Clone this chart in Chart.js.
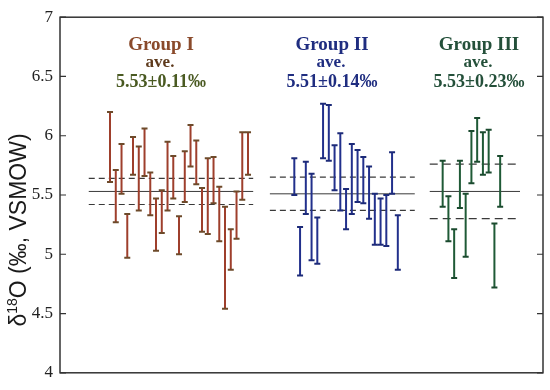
<!DOCTYPE html>
<html>
<head>
<meta charset="utf-8">
<script src="https://cdn.jsdelivr.net/npm/chart.js@4/dist/chart.umd.min.js"></script>
<style>
  html, body { margin: 0; padding: 0; background: #fff; }
  #wrap { width: 550px; height: 390px; }
</style>
</head>
<body>
<div id="wrap"><canvas id="c" width="550" height="390"></canvas></div>
<script>
// ---- data ----
const groupNames = ["Group I", "Group II", "Group III"];
const groupMeans = [5.53, 5.51, 5.53];
const groupSDs = [0.11, 0.14, 0.23];
const meanLabels = ["5.53±0.11‰", "5.51±0.14‰", "5.53±0.23‰"];
const yTicks = [4, 4.5, 5, 5.5, 6, 6.5, 7];
const yTickLabels = ["4", "4.5", "5", "5.5", "6", "6.5", "7"];

const groupI_high = [6.20,5.71,5.93,5.34,5.99,5.91,6.06,5.69,5.47,5.54,5.95,5.83,5.32,5.87,6.09,5.96,5.56,5.81,5.82,5.57,5.40,5.21,5.53,6.03,6.03];
const groupI_low  = [5.61,5.27,5.51,4.97,5.67,5.37,5.66,5.33,5.03,5.18,5.37,5.47,5.00,5.44,5.74,5.59,5.19,5.17,5.43,5.11,4.54,4.87,5.13,5.46,5.67];

const groupII_high = [5.81,5.23,5.78,5.68,5.31,6.27,6.26,5.92,6.02,5.55,5.93,5.88,5.82,5.74,5.51,5.47,5.50,5.86,5.33];
const groupII_low  = [5.50,4.82,5.34,4.95,4.92,5.81,5.79,5.54,5.37,5.21,5.34,5.44,5.43,5.30,5.08,5.08,5.07,5.51,4.87];

const groupIII_high = [5.79,5.49,5.21,5.79,5.51,6.04,6.15,6.03,6.05,5.26,5.83];
const groupIII_low  = [5.40,5.11,4.80,5.39,4.98,5.60,5.78,5.67,5.69,4.72,5.40];

// ---- layout (x in sample-slot units) ----
const groupStart = [8.7, 40.75, 66.55];
const meanSpan = [[5.0, 33.6], [36.5, 61.7], [64.3, 80.0]];
const barColors = ["#9e3f2c", "#22308c", "#1f5a36"];
const capColors = ["#6d4a2a", "#1c2a78", "#1a4a2e"];
const titleColors = ["#8a4a2b", "#1f2d80", "#24503a"];
const aveColors = ["#5e3a1c", "#1f2d80", "#24503a"];
const numColors = ["#4a5a22", "#1f2d80", "#24503a"];
const textCenterPx = [161, 332, 479];

const highs = [groupI_high, groupII_high, groupIII_high];
const lows = [groupI_low, groupII_low, groupIII_low];

function errorBarPoints(start, lo, hi) {
  const pts = [];
  lo.forEach((v, i) => {
    pts.push({x: start + i, y: v}, {x: start + i, y: hi[i]}, {x: start + i, y: null});
  });
  return pts;
}

const datasets = [];
for (let g = 0; g < 3; g++) {
  datasets.push({
    type: 'line',
    data: errorBarPoints(groupStart[g], lows[g], highs[g]),
    borderColor: barColors[g],
    borderWidth: 2,
    spanGaps: false,
    pointStyle: 'line',
    pointRadius: 3,
    pointBorderWidth: 2,
    pointBorderColor: capColors[g],
    fill: false,
    tension: 0
  });
}
for (let g = 0; g < 3; g++) {
  const [a, b] = meanSpan[g];
  const m = groupMeans[g], s = groupSDs[g];
  datasets.push({type:'line', data:[{x:a,y:m},{x:b,y:m}], borderColor:'#3a3a3a', borderWidth:1, pointRadius:0, fill:false});
  datasets.push({type:'line', data:[{x:a,y:m+s},{x:b,y:m+s}], borderColor:'#3a3a3a', borderWidth:1.2, borderDash: g===2?[8,5]:[6,4], pointRadius:0, fill:false});
  datasets.push({type:'line', data:[{x:a,y:m-s},{x:b,y:m-s}], borderColor:'#3a3a3a', borderWidth:1.2, borderDash: g===2?[8,5]:[6,4], pointRadius:0, fill:false});
}

const framePlugin = {
  id: 'frame',
  afterDraw(chart) {
    const {ctx, chartArea: a, scales} = chart;
    const y = scales.y;
    ctx.save();
    ctx.strokeStyle = '#333';
    ctx.lineWidth = 1.5;
    ctx.strokeRect(a.left, a.top, a.right - a.left, a.bottom - a.top);
    ctx.lineWidth = 1.2;
    yTicks.forEach(t => {
      const py = y.getPixelForValue(t);
      ctx.beginPath();
      ctx.moveTo(a.left, py); ctx.lineTo(a.left + 6, py);
      ctx.moveTo(a.right, py); ctx.lineTo(a.right - 6, py);
      ctx.stroke();
    });
    // group annotations
    ctx.textAlign = 'center';
    ctx.textBaseline = 'alphabetic';
    for (let g = 0; g < 3; g++) {
      const cx = textCenterPx[g];
      ctx.fillStyle = titleColors[g];
      ctx.font = 'bold 19px "Liberation Serif"';
      ctx.fillText(groupNames[g], cx, a.top + 33);
      ctx.fillStyle = aveColors[g];
      ctx.font = 'bold 17px "Liberation Serif"';
      ctx.fillText('ave.', cx - 1, a.top + 50);
      ctx.fillStyle = numColors[g];
      ctx.font = 'bold 18px "Liberation Serif"';
      ctx.fillText(meanLabels[g], cx, a.top + 70);
    }
    // y-axis title with superscript
    const parts = [
      {t: 'δ', f: '23px "Liberation Sans"', dy: 0},
      {t: '18', f: '14px "Liberation Sans"', dy: -9},
      {t: 'O (‰, VSMOW)', f: '23px "Liberation Sans"', dy: 0}
    ];
    let total = 0;
    parts.forEach(p => { ctx.font = p.f; p.w = ctx.measureText(p.t).width; total += p.w; });
    ctx.translate(26, 230);
    ctx.rotate(-Math.PI / 2);
    ctx.fillStyle = '#1a1a1a';
    ctx.textAlign = 'left';
    let x = -total / 2;
    parts.forEach(p => { ctx.font = p.f; ctx.fillText(p.t, x, p.dy); x += p.w; });
    ctx.restore();
  }
};

new Chart(document.getElementById('c'), {
  type: 'line',
  data: { datasets },
  options: {
    responsive: false,
    animation: false,
    events: [],
    layout: { padding: { top: 13, bottom: 10, right: 7, left: 0 } },
    plugins: { legend: { display: false }, tooltip: { enabled: false } },
    scales: {
      x: { type: 'linear', min: 0, max: 84, display: false },
      y: {
        type: 'linear', min: 4, max: 7,
        afterFit(s) { s.width = 60; },
        afterBuildTicks(s) { s.ticks = yTicks.map(v => ({value: v})); },
        grid: { display: false, drawTicks: false },
        border: { display: false },
        ticks: {
          padding: 7, color: '#222',
          font: { family: '"Liberation Serif"', size: 17 },
          callback: (v) => yTickLabels[yTicks.indexOf(v)] ?? String(v)
        }
      }
    }
  },
  plugins: [framePlugin]
});
</script>
</body>
</html>
